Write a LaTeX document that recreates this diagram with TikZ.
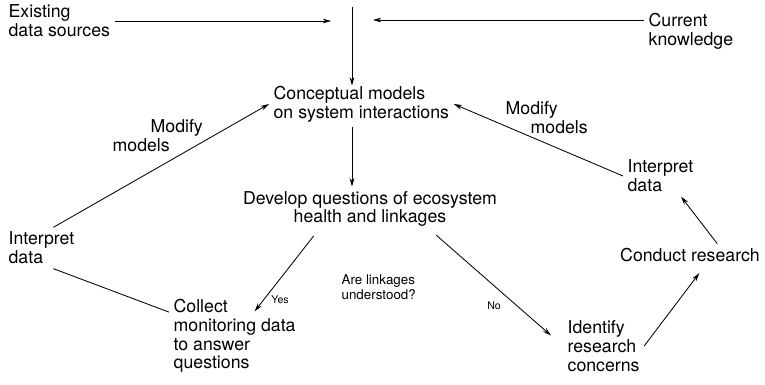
\documentclass[tikz,border=0pt]{standalone}
\usepackage{fontspec}
\setmainfont{TeX Gyre Heros}
\usetikzlibrary{arrows.meta}

\begin{document}
\begin{tikzpicture}[x=0.025cm, y=-0.025cm, line width=0.6pt,
    >={Stealth[length=6pt,width=3.4pt]},
    every node/.style={inner sep=3pt, font=\fontsize{12.6}{13.4}\selectfont},
    txt/.style={align=left, anchor=west},
    note/.style={font=\fontsize{9.5}{10.5}\selectfont},
    answer/.style={font=\fontsize{7.5}{8}\selectfont, inner sep=2pt}]
    \useasboundingbox (0, 0) rectangle (765, 384);

    % inputs at the top
    \path (4, 21) node [txt] (src) {Existing\\data sources};
    \path (644, 31) node [txt] (cur) {Current\\knowledge};
    \path (352, 20) node [minimum width=1.025cm, minimum height=0.65cm, inner sep=0] (hub) {};
    \draw [->] (src.east) -- (src.east -| hub.west);
    \draw [->] (cur.west |- hub.east) -- (hub.east);

    \path (269, 104) node [txt] (concept) {Conceptual models\\on system interactions};
    \draw [->, shorten >=-3pt] (hub.north) -- (hub.north |- concept.north);
    \path (370, 209) node [align=center] (develop) {Develop questions of ecosystem\\health and linkages};
    \draw [->] (concept.south -| hub) -- (develop.north -| hub);

    % left loop
    \path (4, 248) node [txt] (interpL) {Interpret\\data};
    \path (108, 136) node [txt] (modL) {\hspace*{0.95cm}Modify\\models};
    \draw [->] (interpL.60) -- (concept.west);
    \path (169, 336) node [txt] (collect) {Collect\\monitoring data\\to answer\\questions};
    \draw (interpL.-60) -- (collect.160);
    \draw [->, shorten <=4pt] ([xshift=-1.32cm]develop.south) -- ([shift={(0.5cm,-0.42cm)}]collect.north)
	node[pos=0.85, right=3pt, answer] {Yes};

    \path (337, 287) node [txt, note] (link) {Are linkages\\understood?};

    % right loop
    \path (563, 346) node [txt] (identify) {Identify\\research\\concerns};
    \draw [->, shorten <=4pt, shorten >=0.4cm] ([xshift=1.55cm]develop.south) -- (identify.west)
	node[pos=0.55, below left, yshift=-3pt, answer] {No};
    \path (690, 255) node (conduct) {Conduct research};
    \draw [->, shorten >=6pt] (identify.east) -- ([xshift=0.36cm]conduct.south);
    \path (623, 176) node [txt] (interpR) {Interpret\\data};
    \draw [->] ([xshift=0.68cm]conduct.north) -- (interpR.-45);
    \path (501, 118) node [txt] (modR) {Modify\\\hspace*{0.625cm}models};
    \draw [->] (interpR.west) -- (concept.east);
\end{tikzpicture}
\end{document}
